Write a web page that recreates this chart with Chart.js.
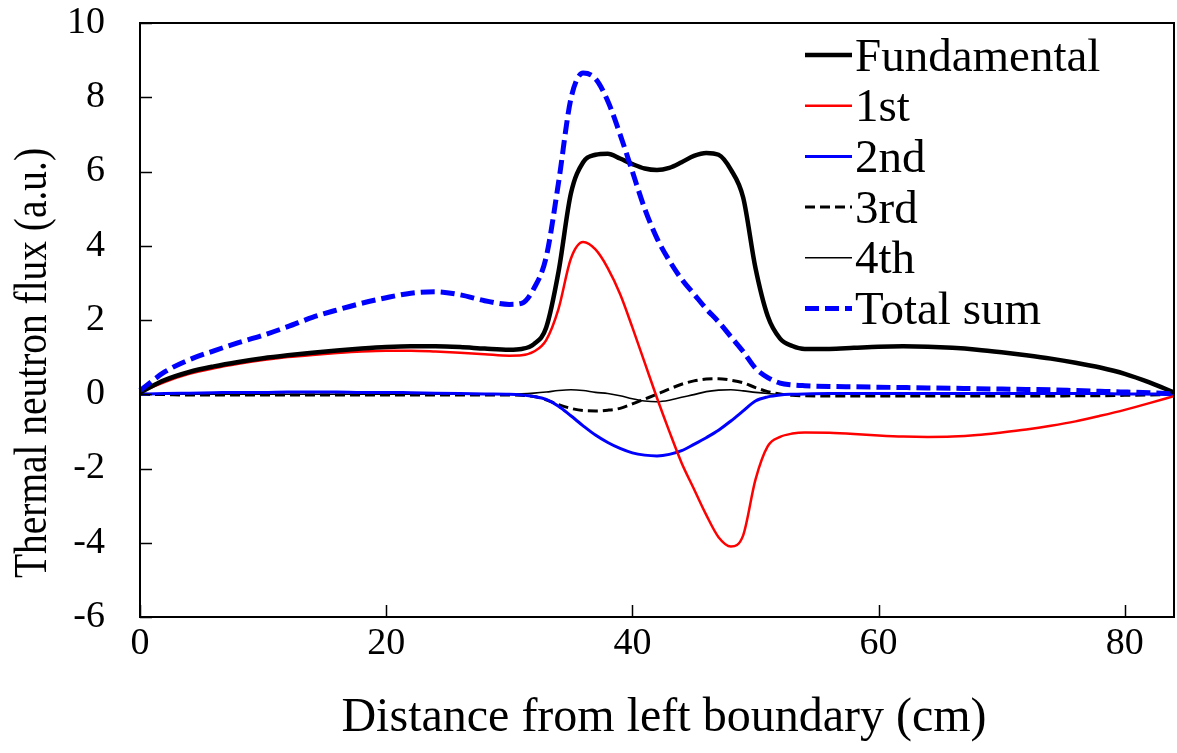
<!DOCTYPE html>
<html>
<head>
<meta charset="utf-8">
<script src="https://cdn.jsdelivr.net/npm/chart.js@4.4.1/dist/chart.umd.min.js"></script>
<style>
  html, body { margin: 0; padding: 0; background: #fff; }
  #wrap { width: 1177px; height: 753px; }
</style>
</head>
<body>
<div id="wrap"><canvas id="fluxChart"></canvas></div>
<script>
// Distance from the left boundary (cm), shared by every curve
const distance = [0, 2, 4, 6, 8, 10, 12, 14, 16, 18, 20, 22, 24, 26, 28, 30,
    31, 32, 33, 34, 35, 36, 37, 38, 39, 40, 41, 42, 43, 44, 45, 46, 47, 48, 49, 50, 51, 52, 53,
    54, 56, 58, 60, 62, 64, 66, 68, 70, 72, 74, 76, 78, 80, 82, 84];

const fundamental = [0.05, 0.38, 0.6, 0.75, 0.87, 0.97, 1.05, 1.12, 1.18, 1.23, 1.27, 1.29, 1.29, 1.27, 1.23, 1.2,
    1.22, 1.35, 1.8, 3.3, 5.4, 6.25, 6.45, 6.48, 6.35, 6.2, 6.08, 6.04, 6.1, 6.25, 6.42, 6.5, 6.45, 6.05, 5.3, 3.4, 2.1, 1.5, 1.3,
    1.22, 1.22, 1.25, 1.28, 1.29, 1.28, 1.25, 1.2, 1.13, 1.05, 0.96, 0.85, 0.72, 0.55, 0.32, 0.05];

const first = [0.05, 0.33, 0.55, 0.7, 0.82, 0.92, 1.0, 1.06, 1.11, 1.15, 1.17, 1.17, 1.15, 1.12, 1.08, 1.04,
    1.05, 1.15, 1.46, 2.3, 3.65, 4.1, 3.9, 3.4, 2.7, 1.8, 0.85, -0.1, -1.0, -1.85, -2.55, -3.25, -3.85, -4.1, -3.8, -2.3, -1.4, -1.15, -1.06,
    -1.03, -1.04, -1.07, -1.11, -1.14, -1.15, -1.14, -1.1, -1.03, -0.95, -0.85, -0.73, -0.58, -0.42, -0.24, -0.05];

const second = [0, 0.02, 0.03, 0.04, 0.05, 0.05, 0.06, 0.06, 0.06, 0.05, 0.05, 0.04, 0.03, 0.02, 0.01, 0.0,
    -0.02, -0.06, -0.14, -0.32, -0.58, -0.85, -1.1, -1.3, -1.46, -1.58, -1.64, -1.66, -1.62, -1.52, -1.35, -1.17, -0.97, -0.72, -0.45, -0.18, -0.07, -0.02, 0.0,
    0.01, 0.02, 0.02, 0.02, 0.02, 0.02, 0.02, 0.02, 0.02, 0.02, 0.02, 0.02, 0.02, 0.01, 0.01, 0];

const third = [0, -0.01, -0.02, -0.02, -0.02, -0.02, -0.02, -0.02, -0.02, -0.02, -0.02, -0.02, -0.02, -0.02, -0.02, -0.02,
    -0.03, -0.06, -0.15, -0.28, -0.38, -0.44, -0.45, -0.43, -0.38, -0.26, -0.13, 0.0, 0.14, 0.27, 0.36, 0.41, 0.42, 0.38, 0.31, 0.18, 0.07, 0.01, -0.03,
    -0.04, -0.05, -0.05, -0.05, -0.05, -0.05, -0.05, -0.05, -0.05, -0.05, -0.05, -0.04, -0.04, -0.03, -0.02, 0];

const fourth = [0, 0, 0, 0, 0, 0, 0, 0, 0, 0, 0, 0, 0, 0, 0, 0,
    0.01, 0.03, 0.06, 0.1, 0.12, 0.1, 0.05, 0.02, -0.04, -0.12, -0.18, -0.2, -0.16, -0.08, -0.01, 0.07, 0.11, 0.12, 0.09, 0.05, 0.02, 0.0, 0.0,
    0, 0, 0, 0, 0, 0, 0, 0, 0, 0, 0, 0, 0, 0, 0, 0];

const totalSum = [0.1, 0.6, 0.93, 1.17, 1.39, 1.59, 1.82, 2.07, 2.27, 2.45, 2.6, 2.72, 2.76, 2.68, 2.52, 2.42,
    2.45, 2.85, 3.7, 5.7, 7.95, 8.65, 8.5, 7.9, 7.0, 6.0, 5.0, 4.2, 3.6, 3.1, 2.7, 2.3, 1.95, 1.55, 1.15, 0.7, 0.45, 0.3, 0.25,
    0.23, 0.21, 0.2, 0.19, 0.18, 0.17, 0.16, 0.15, 0.14, 0.13, 0.12, 0.1, 0.08, 0.06, 0.04, 0.01];

const seriesNames = ['Fundamental', '1st', '2nd', '3rd', '4th', 'Total sum'];
const xTickValues = [0, 20, 40, 60, 80];
const yTickValues = [-6, -4, -2, 0, 2, 4, 6, 8, 10];

const xTitle = 'Distance from left boundary (cm)';
const yTitle = 'Thermal neutron flux (a.u.)';

const SERIF = "'Liberation Serif', 'Times New Roman', serif";

function toPoints(values) {
    return values.map((v, i) => ({ x: distance[i], y: v }));
}

// frame, inward ticks, axis titles and the legend
const framePlugin = {
    id: 'frame',
    afterDraw(chart) {
        const ctx = chart.ctx;
        const area = chart.chartArea;
        const xs = chart.scales.x;
        const ys = chart.scales.y;

        ctx.save();
        ctx.strokeStyle = '#000';
        ctx.lineWidth = 2;
        ctx.strokeRect(area.left, area.top, area.right - area.left, area.bottom - area.top);

        ctx.lineWidth = 1.5;
        ctx.beginPath();
        yTickValues.forEach(v => {
            const py = Math.round(ys.getPixelForValue(v)) + 0.5;
            ctx.moveTo(area.left, py);
            ctx.lineTo(area.left + 12, py);
        });
        xTickValues.forEach(v => {
            const px = Math.round(xs.getPixelForValue(v)) + 0.5;
            ctx.moveTo(px, area.bottom);
            ctx.lineTo(px, area.bottom - 12);
        });
        ctx.stroke();

        // axis titles
        ctx.fillStyle = '#000';
        ctx.textAlign = 'center';
        ctx.textBaseline = 'alphabetic';
        ctx.font = '48px ' + SERIF;
        ctx.fillText(xTitle, 664, 731);

        ctx.save();
        ctx.translate(46, 363);
        ctx.rotate(-Math.PI / 2);
        ctx.font = '46px ' + SERIF;
        ctx.fillText(yTitle, 0, 0, 430);
        ctx.restore();

        // legend
        ctx.font = '47px ' + SERIF;
        ctx.textAlign = 'left';
        chart.data.datasets.forEach((ds, i) => {
            const cy = 55 + i * 50.7;
            ctx.save();
            ctx.strokeStyle = ds.borderColor;
            ctx.lineWidth = ds.borderWidth;
            ctx.setLineDash(ds.borderDash || []);
            ctx.beginPath();
            ctx.moveTo(805, cy);
            ctx.lineTo(852, cy);
            ctx.stroke();
            ctx.restore();
            ctx.fillText(ds.label, 855, cy + 15.5);
        });
        ctx.restore();
    }
};

function createFluxChart() {
    const ctx = document.getElementById('fluxChart').getContext('2d');

    const styles = [
        { color: '#000000', width: 4.5, dash: [] },
        { color: '#ff0000', width: 2.5, dash: [] },
        { color: '#0000ff', width: 3, dash: [] },
        { color: '#000000', width: 3, dash: [10, 5] },
        { color: '#000000', width: 1.6, dash: [] },
        { color: '#0000ff', width: 5, dash: [14, 6] }
    ];
    const values = [fundamental, first, second, third, fourth, totalSum];

    const datasets = values.map((vals, i) => ({
        label: seriesNames[i],
        data: toPoints(vals),
        borderColor: styles[i].color,
        borderWidth: styles[i].width,
        borderDash: styles[i].dash,
        pointRadius: 0,
        fill: false,
        cubicInterpolationMode: 'monotone',
        clip: false,
        order: i === 5 ? -1 : i
    }));

    window.fluxChart = new Chart(ctx, {
        type: 'line',
        data: { datasets: datasets },
        options: {
            responsive: true,
            maintainAspectRatio: false,
            animation: false,
            layout: { padding: { top: 23, right: 3, left: 0, bottom: 0 } },
            scales: {
                x: {
                    type: 'linear',
                    min: 0,
                    max: 84,
                    afterBuildTicks: s => { s.ticks = xTickValues.map(v => ({ value: v })); },
                    afterFit: s => { s.height = 136; s.paddingLeft = 0; s.paddingRight = 0; },
                    grid: { display: false, drawTicks: false },
                    border: { display: false },
                    ticks: {
                        color: '#000',
                        padding: 4,
                        maxRotation: 0,
                        font: { family: SERIF, size: 38 }
                    }
                },
                y: {
                    type: 'linear',
                    min: -6,
                    max: 10,
                    afterBuildTicks: s => { s.ticks = yTickValues.map(v => ({ value: v })); },
                    afterFit: s => { s.width = 140; s.paddingTop = 0; s.paddingBottom = 0; },
                    grid: { display: false, drawTicks: false },
                    border: { display: false },
                    ticks: {
                        color: '#000',
                        padding: 35,
                        font: { family: SERIF, size: 38 }
                    }
                }
            },
            plugins: {
                legend: { display: false },
                tooltip: { enabled: false }
            }
        },
        plugins: [framePlugin]
    });
}

document.addEventListener('DOMContentLoaded', createFluxChart);
</script>
</body>
</html>
